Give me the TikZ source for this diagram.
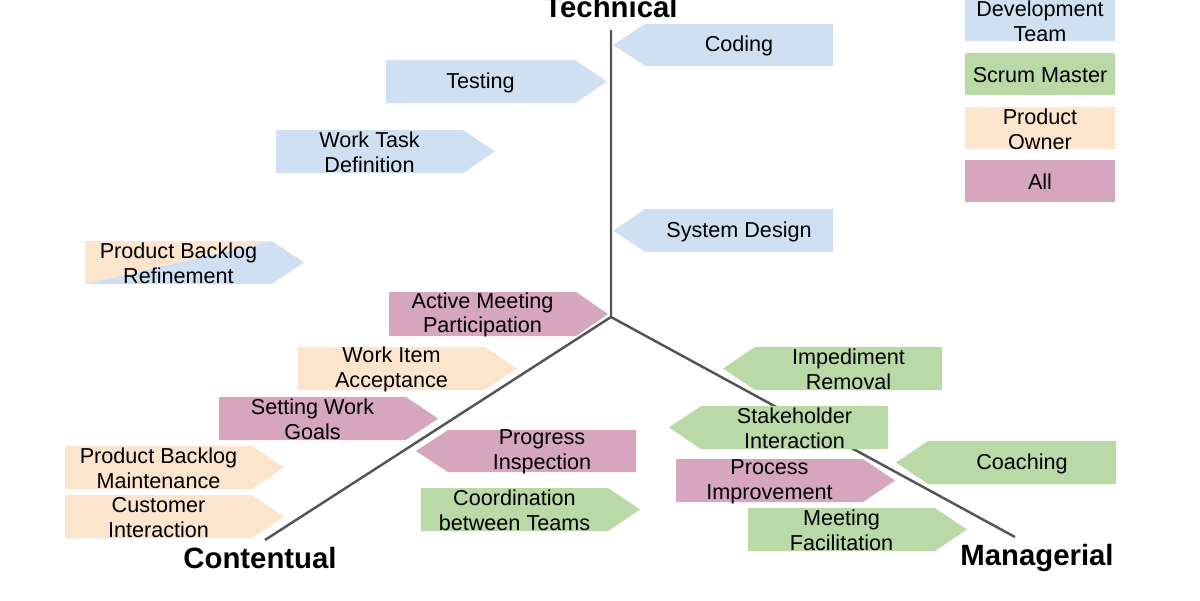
\documentclass[tikz,border=0pt]{standalone}
\usepackage{fontspec}
\setmainfont{Liberation Sans}
\definecolor{cb}{HTML}{CFE0F3}
\definecolor{cg}{HTML}{B9D9A7}
\definecolor{co}{HTML}{FCE4CD}
\definecolor{cp}{HTML}{D5A6BD}
\definecolor{ax}{HTML}{555555}
\tikzset{lbl/.style={font=\fontsize{12.3}{14}\selectfont,align=center,inner sep=0pt},
 axl/.style={font=\fontsize{16.7}{20}\selectfont\bfseries,inner sep=0pt},
 axis/.style={draw=ax,line width=1.4pt}}
% right arrow: name, x1, x2, y1, y2, color, text
\newcommand{\arR}[7]{%
 \fill[#6] (#2,#4) -- ({#3-32},#4) -- (#3,{(#4+#5)/2}) -- ({#3-32},#5) -- (#2,#5) -- cycle;
 \node[lbl] (#1) at ({(#2+#3-32)/2},{(#4+#5)/2+1}) {#7};}
\newcommand{\arL}[7]{%
 \fill[#6] (#2,{(#4+#5)/2}) -- ({#2+32},#4) -- (#3,#4) -- (#3,#5) -- ({#2+32},#5) -- cycle;
 \node[lbl] (#1) at ({(#2+32+#3)/2},{(#4+#5)/2+1}) {#7};}
\begin{document}
\begin{tikzpicture}[x=0.02cm,y=-0.02cm]
\useasboundingbox (0,0) rectangle (1200,600);
\coordinate (c) at (611,317);
\coordinate (t) at (611,30);
\coordinate (l) at (265,540);
\coordinate (r) at (1015,537);
\draw[axis] (t) -- (c) -- (l);
\draw[axis] (c) -- (r);
\node[axl] (tech) at (611,7) {Technical};
\node[axl] (cont) at (260,558) {Contentual};
\node[axl] (man) at (1037,558) {Managerial};
\arL{coding}{613}{833}{24}{66}{cb}{Coding}
\arR{testing}{386}{607}{60}{103}{cb}{Testing}
\arR{wtd}{276}{495}{130}{173}{cb}{Work Task\\Definition}
\arL{sd}{613}{833}{209}{252}{cb}{System Design}
\fill[co] (85,241) -- (272,241) -- (85,284) -- cycle;
\fill[cb] (272,241) -- (304,262.5) -- (272,284) -- (85,284) -- cycle;
\node[lbl] (pbr) at (178.5,263.5) {Product Backlog\\Refinement};
\arR{amp}{389}{608}{292}{336}{cp}{Active Meeting\\Participation}
\arR{wia}{298}{517}{347}{390}{co}{Work Item\\Acceptance}
\arR{swg}{219}{438}{397}{440}{cp}{Setting Work\\Goals}
\arR{pbm}{65}{284}{446}{489}{co}{Product Backlog\\Maintenance}
\arR{ci}{65}{284}{495}{538}{co}{Customer\\Interaction}
\arL{pi}{416}{636}{430}{472}{cp}{Progress\\Inspection}
\arR{cbt}{421}{640}{488}{531}{cg}{Coordination\\between Teams}
\arL{ir}{723}{942}{347}{390}{cg}{Impediment\\Removal}
\arL{si}{669}{888}{406}{449}{cg}{Stakeholder\\Interaction}
\arL{coach}{896}{1116}{441}{484}{cg}{Coaching}
\arR{proc}{676}{895}{459}{502}{cp}{Process\\Improvement}
\arR{mf}{748}{967}{508}{551}{cg}{Meeting\\Facilitation}
\fill[cb] (965,-5) rectangle (1115,41);
\node[lbl] (ldt) at (1040,21) {Development\\Team};
\fill[cg] (965,53) rectangle (1115,95);
\node[lbl] (lsm) at (1040,75) {Scrum Master};
\fill[co] (965,107) rectangle (1115,149);
\node[lbl] (lpo) at (1040,129) {Product\\Owner};
\fill[cp] (965,160) rectangle (1115,202);
\node[lbl] (lall) at (1040,182) {All};
\end{tikzpicture}
\end{document}
